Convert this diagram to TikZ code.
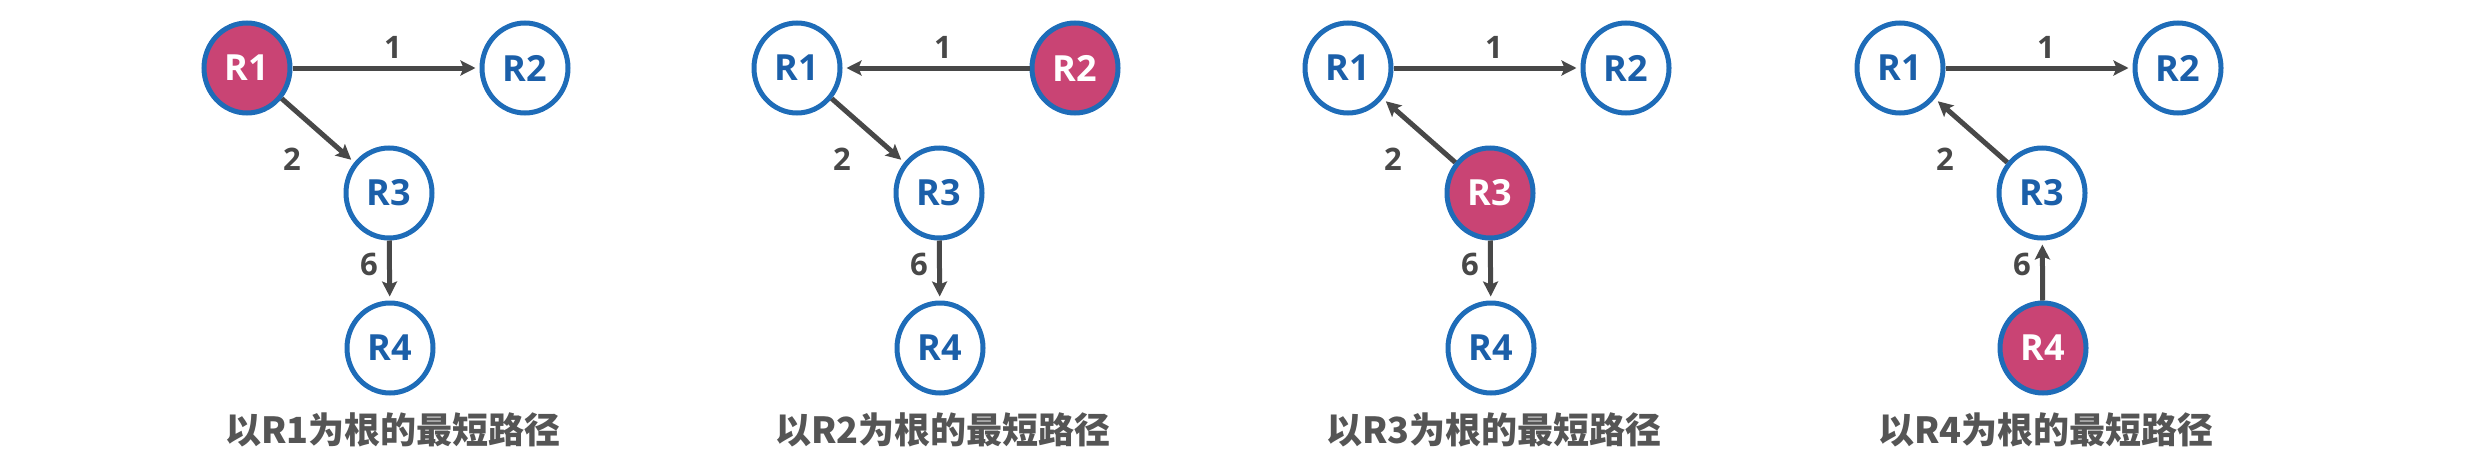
\documentclass[tikz,border=0pt]{standalone}
\usepackage{fontspec}
\setmainfont{Open Sans}
\newfontfamily\cjk{Noto Sans CJK SC}
\usetikzlibrary{shapes.geometric,arrows.meta}
\definecolor{nodeblue}{HTML}{1E6CB8}
\definecolor{textblue}{HTML}{1B5FA9}
\definecolor{rootpink}{HTML}{C94474}
\definecolor{edgegray}{HTML}{484848}
\definecolor{titlegray}{HTML}{555555}
\tikzset{
  router/.style={ellipse, draw=nodeblue, line width=5pt, fill=white,
    minimum width=86pt, minimum height=90pt, inner sep=0pt, text=textblue,
    font=\fontsize{36}{36}\selectfont\bfseries},
  rootnode/.style={router, fill=rootpink, text=white},
  link/.style={draw=edgegray, line width=5pt, shorten >=4pt,
    -{Stealth[length=15pt,width=15pt,inset=3pt]}},
  cost/.style={text=edgegray, inner sep=0pt, font=\fontsize{31}{31}\selectfont\bfseries},
  caption/.style={text=titlegray, inner sep=0pt, font=\cjk\fontsize{36}{36}\selectfont\bfseries}
}
\begin{document}
\begin{tikzpicture}[x=1pt,y=-1pt]
\useasboundingbox (0,0) rectangle (2478,466);
% Panel 1
\begin{scope}[shift={(247,0)}]
  \node[rootnode] (a1) at (0,68) {R1};
  \node[router] (a2) at (278,68) {R2};
  \node[router] (a3) at (142,193) {R3};
  \node[router] (a4) at (143,348) {R4};
  \draw[link] (a1) -- (a2);
  \draw[link] (a1) -- (a3);
  \draw[link] (a3) -- (a4);
  \node[cost] (a12) at (146,47) {1};
  \node[cost] (a13) at (45,159) {2};
  \node[cost] (a34) at (122,264) {6};
  \node[caption] (at) at (146,430) {以R1为根的最短路径};
\end{scope}
% Panel 2
\begin{scope}[shift={(797,0)}]
  \node[router] (b1) at (0,68) {R1};
  \node[rootnode] (b2) at (278,68) {R2};
  \node[router] (b3) at (142,193) {R3};
  \node[router] (b4) at (143,348) {R4};
  \draw[link] (b2) -- (b1);
  \draw[link] (b1) -- (b3);
  \draw[link] (b3) -- (b4);
  \node[cost] (b12) at (146,47) {1};
  \node[cost] (b13) at (45,159) {2};
  \node[cost] (b34) at (122,264) {6};
  \node[caption] (bt) at (146,430) {以R2为根的最短路径};
\end{scope}
% Panel 3
\begin{scope}[shift={(1348,0)}]
  \node[router] (c1) at (0,68) {R1};
  \node[router] (c2) at (278,68) {R2};
  \node[rootnode] (c3) at (142,193) {R3};
  \node[router] (c4) at (143,348) {R4};
  \draw[link] (c1) -- (c2);
  \draw[link] (c3) -- (c1);
  \draw[link] (c3) -- (c4);
  \node[cost] (c12) at (146,47) {1};
  \node[cost] (c13) at (45,159) {2};
  \node[cost] (c34) at (122,264) {6};
  \node[caption] (ct) at (146,430) {以R3为根的最短路径};
\end{scope}
% Panel 4
\begin{scope}[shift={(1900,0)}]
  \node[router] (d1) at (0,68) {R1};
  \node[router] (d2) at (278,68) {R2};
  \node[router] (d3) at (142,193) {R3};
  \node[rootnode] (d4) at (143,348) {R4};
  \draw[link] (d1) -- (d2);
  \draw[link] (d3) -- (d1);
  \draw[link] (d4) -- (d3);
  \node[cost] (d12) at (146,47) {1};
  \node[cost] (d13) at (45,159) {2};
  \node[cost] (d34) at (122,264) {6};
  \node[caption] (dt) at (146,430) {以R4为根的最短路径};
\end{scope}
\end{tikzpicture}
\end{document}
